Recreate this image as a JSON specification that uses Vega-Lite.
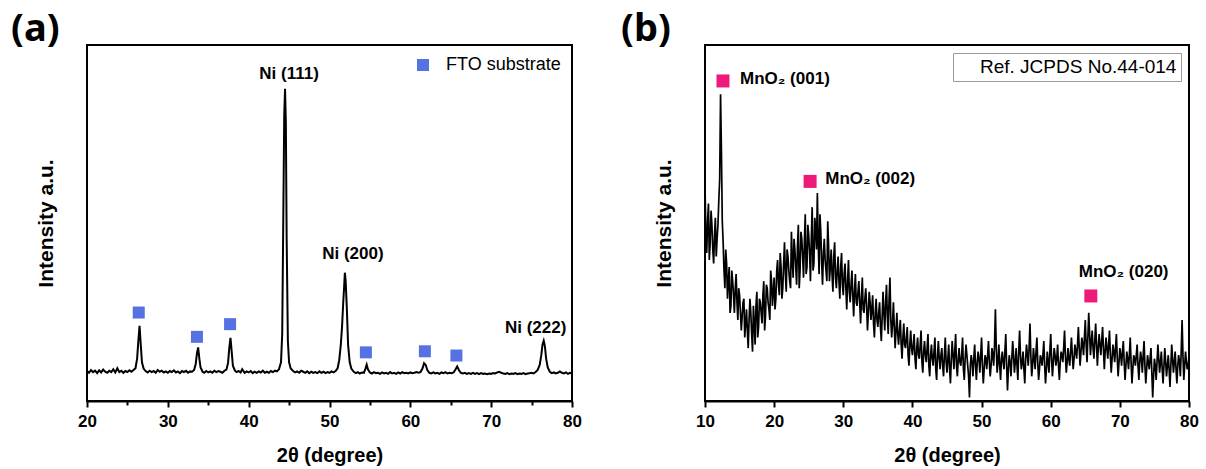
{
"$schema": "https://vega.github.io/schema/vega-lite/v6.json",
"padding": {"left": 10, "top": 10, "right": 5, "bottom": 5},
"background": "white",
"spacing": 133,
"bounds": "flush",
"resolve": {"scale": {"color": "independent"}, "legend": {"color": "independent"}},
"config": {
  "view": {"stroke": "black", "strokeWidth": 2},
  "font": "Liberation Sans",
  "axisX": {"labelFont": "Liberation Sans", "labelFontSize": 17, "labelFontWeight": "bold", "labelColor": "black", "labelPadding": 6, "labelFlush": false, "labelOverlap": false, "labelBound": false, "tickColor": "black", "tickWidth": 2, "domainColor": "black", "domainWidth": 2, "grid": false, "titleFont": "Liberation Sans", "titleFontSize": 20, "titleFontWeight": "bold", "titleColor": "black", "titlePadding": 16},
  "axisY": {"labels": false, "ticks": false, "domain": false, "grid": false, "titleFont": "Liberation Sans", "titleFontSize": 21, "titleFontWeight": "bold", "titleColor": "black", "titlePadding": 31}
},
"datasets": {
  "a_trace": [
{"angle":20,"intensity":7.5},{"angle":20.25,"intensity":7.0},{"angle":20.5,"intensity":7.8},{"angle":20.75,"intensity":7.2},{"angle":21,"intensity":7.6},{"angle":21.25,"intensity":6.9},{"angle":21.5,"intensity":7.7},{"angle":21.75,"intensity":7.1},{"angle":22,"intensity":7.9},{"angle":22.25,"intensity":7.3},{"angle":22.5,"intensity":7.0},{"angle":22.75,"intensity":7.6},{"angle":23,"intensity":7.2},{"angle":23.25,"intensity":8.0},{"angle":23.5,"intensity":7.1},{"angle":23.75,"intensity":8.3},{"angle":24,"intensity":7.2},{"angle":24.25,"intensity":7.6},{"angle":24.5,"intensity":7.0},{"angle":24.75,"intensity":7.5},{"angle":25,"intensity":7.2},{"angle":25.25,"intensity":7.7},{"angle":25.5,"intensity":7.3},{"angle":25.75,"intensity":7.8},{"angle":26,"intensity":8.3},{"angle":26.2,"intensity":11},{"angle":26.35,"intensity":16},{"angle":26.5,"intensity":20.3},{"angle":26.65,"intensity":15},{"angle":26.8,"intensity":10},{"angle":27,"intensity":8.2},{"angle":27.25,"intensity":7.5},{"angle":27.5,"intensity":7.1},{"angle":27.75,"intensity":7.6},{"angle":28,"intensity":7.2},{"angle":28.25,"intensity":7.5},{"angle":28.5,"intensity":7.0},{"angle":28.75,"intensity":7.8},{"angle":29,"intensity":7.3},{"angle":29.25,"intensity":7.6},{"angle":29.5,"intensity":7.1},{"angle":29.75,"intensity":7.4},{"angle":30,"intensity":7.0},{"angle":30.25,"intensity":7.5},{"angle":30.5,"intensity":7.2},{"angle":30.75,"intensity":7.7},{"angle":31,"intensity":7.1},{"angle":31.25,"intensity":7.4},{"angle":31.5,"intensity":6.9},{"angle":31.75,"intensity":7.5},{"angle":32,"intensity":7.2},{"angle":32.25,"intensity":7.6},{"angle":32.5,"intensity":7.0},{"angle":32.75,"intensity":7.4},{"angle":33,"intensity":7.3},{"angle":33.25,"intensity":7.8},{"angle":33.45,"intensity":9.5},{"angle":33.6,"intensity":12.5},{"angle":33.75,"intensity":14.2},{"angle":33.9,"intensity":11},{"angle":34.05,"intensity":8.5},{"angle":34.3,"intensity":7.3},{"angle":34.5,"intensity":7.0},{"angle":34.75,"intensity":7.5},{"angle":35,"intensity":7.1},{"angle":35.25,"intensity":7.4},{"angle":35.5,"intensity":7.0},{"angle":35.75,"intensity":7.6},{"angle":36,"intensity":7.2},{"angle":36.25,"intensity":7.5},{"angle":36.5,"intensity":7.3},{"angle":36.75,"intensity":7.0},{"angle":37,"intensity":7.6},{"angle":37.25,"intensity":7.9},{"angle":37.45,"intensity":9.8},{"angle":37.6,"intensity":14},{"angle":37.75,"intensity":16.9},{"angle":37.9,"intensity":13},{"angle":38.05,"intensity":9.0},{"angle":38.3,"intensity":7.6},{"angle":38.5,"intensity":7.2},{"angle":38.75,"intensity":7.5},{"angle":39,"intensity":7.1},{"angle":39.2,"intensity":8.0},{"angle":39.5,"intensity":7.0},{"angle":39.75,"intensity":7.4},{"angle":40,"intensity":7.1},{"angle":40.25,"intensity":7.5},{"angle":40.5,"intensity":6.9},{"angle":40.75,"intensity":7.3},{"angle":41,"intensity":7.0},{"angle":41.25,"intensity":7.4},{"angle":41.5,"intensity":7.1},{"angle":41.75,"intensity":7.6},{"angle":42,"intensity":7.0},{"angle":42.25,"intensity":7.3},{"angle":42.5,"intensity":7.0},{"angle":42.75,"intensity":7.5},{"angle":43,"intensity":7.2},{"angle":43.25,"intensity":7.6},{"angle":43.5,"intensity":7.4},{"angle":43.75,"intensity":8.0},{"angle":44,"intensity":10},{"angle":44.15,"intensity":18},{"angle":44.3,"intensity":55},{"angle":44.4,"intensity":80},{"angle":44.5,"intensity":87.6},{"angle":44.6,"intensity":78},{"angle":44.7,"intensity":45},{"angle":44.85,"intensity":16},{"angle":45,"intensity":10},{"angle":45.2,"intensity":8.2},{"angle":45.5,"intensity":7.5},{"angle":45.75,"intensity":7.1},{"angle":46,"intensity":7.4},{"angle":46.25,"intensity":7.0},{"angle":46.5,"intensity":7.6},{"angle":46.75,"intensity":7.3},{"angle":47,"intensity":7.0},{"angle":47.25,"intensity":7.4},{"angle":47.5,"intensity":6.9},{"angle":47.75,"intensity":7.3},{"angle":48,"intensity":7.0},{"angle":48.25,"intensity":7.2},{"angle":48.5,"intensity":6.9},{"angle":48.75,"intensity":7.4},{"angle":49,"intensity":7.0},{"angle":49.25,"intensity":7.3},{"angle":49.5,"intensity":6.9},{"angle":49.75,"intensity":7.2},{"angle":50,"intensity":7.0},{"angle":50.25,"intensity":7.4},{"angle":50.5,"intensity":7.1},{"angle":50.75,"intensity":7.5},{"angle":51,"intensity":8.3},{"angle":51.2,"intensity":10.5},{"angle":51.4,"intensity":15},{"angle":51.55,"intensity":20},{"angle":51.7,"intensity":27},{"angle":51.8,"intensity":31},{"angle":51.9,"intensity":35.4},{"angle":52,"intensity":33},{"angle":52.15,"intensity":25},{"angle":52.3,"intensity":15},{"angle":52.5,"intensity":10},{"angle":52.7,"intensity":8.2},{"angle":53,"intensity":7.3},{"angle":53.25,"intensity":6.9},{"angle":53.5,"intensity":7.2},{"angle":53.75,"intensity":6.8},{"angle":54,"intensity":7.1},{"angle":54.25,"intensity":7.0},{"angle":54.45,"intensity":8.2},{"angle":54.6,"intensity":9.3},{"angle":54.75,"intensity":8.0},{"angle":55,"intensity":7.1},{"angle":55.25,"intensity":6.8},{"angle":55.5,"intensity":7.2},{"angle":55.75,"intensity":6.9},{"angle":56,"intensity":7.0},{"angle":56.25,"intensity":6.7},{"angle":56.5,"intensity":7.1},{"angle":56.75,"intensity":6.8},{"angle":57,"intensity":7.0},{"angle":57.25,"intensity":6.7},{"angle":57.5,"intensity":7.2},{"angle":57.75,"intensity":6.8},{"angle":58,"intensity":7.0},{"angle":58.25,"intensity":6.7},{"angle":58.5,"intensity":7.1},{"angle":58.75,"intensity":6.8},{"angle":59,"intensity":7.2},{"angle":59.25,"intensity":6.9},{"angle":59.5,"intensity":7.0},{"angle":59.75,"intensity":6.8},{"angle":60,"intensity":7.1},{"angle":60.25,"intensity":6.9},{"angle":60.5,"intensity":7.0},{"angle":60.75,"intensity":7.2},{"angle":61,"intensity":7.0},{"angle":61.25,"intensity":7.2},{"angle":61.5,"intensity":8.2},{"angle":61.7,"intensity":9.7},{"angle":61.9,"intensity":9.2},{"angle":62.1,"intensity":7.8},{"angle":62.35,"intensity":7.0},{"angle":62.6,"intensity":6.8},{"angle":62.85,"intensity":7.1},{"angle":63.1,"intensity":6.8},{"angle":63.35,"intensity":7.0},{"angle":63.6,"intensity":6.7},{"angle":63.85,"intensity":7.1},{"angle":64.1,"intensity":6.9},{"angle":64.35,"intensity":7.2},{"angle":64.6,"intensity":6.8},{"angle":64.85,"intensity":7.0},{"angle":65.1,"intensity":6.9},{"angle":65.35,"intensity":7.1},{"angle":65.6,"intensity":8.0},{"angle":65.8,"intensity":8.8},{"angle":66,"intensity":7.8},{"angle":66.25,"intensity":7.0},{"angle":66.5,"intensity":6.8},{"angle":66.75,"intensity":7.0},{"angle":67,"intensity":6.7},{"angle":67.25,"intensity":6.9},{"angle":67.5,"intensity":6.7},{"angle":67.75,"intensity":7.0},{"angle":68,"intensity":6.7},{"angle":68.25,"intensity":6.9},{"angle":68.5,"intensity":6.6},{"angle":68.75,"intensity":6.9},{"angle":69,"intensity":6.7},{"angle":69.25,"intensity":6.8},{"angle":69.5,"intensity":6.6},{"angle":69.75,"intensity":6.8},{"angle":70,"intensity":6.7},{"angle":70.25,"intensity":6.9},{"angle":70.5,"intensity":6.8},{"angle":70.75,"intensity":7.1},{"angle":71,"intensity":7.3},{"angle":71.25,"intensity":7.0},{"angle":71.5,"intensity":6.8},{"angle":71.75,"intensity":6.7},{"angle":72,"intensity":6.9},{"angle":72.25,"intensity":6.6},{"angle":72.5,"intensity":6.8},{"angle":72.75,"intensity":6.7},{"angle":73,"intensity":6.9},{"angle":73.25,"intensity":6.6},{"angle":73.5,"intensity":6.8},{"angle":73.75,"intensity":6.7},{"angle":74,"intensity":6.9},{"angle":74.25,"intensity":6.6},{"angle":74.5,"intensity":6.8},{"angle":74.75,"intensity":6.9},{"angle":75,"intensity":7.0},{"angle":75.25,"intensity":6.8},{"angle":75.5,"intensity":7.2},{"angle":75.75,"intensity":7.8},{"angle":76,"intensity":9.2},{"angle":76.2,"intensity":12},{"angle":76.35,"intensity":15},{"angle":76.5,"intensity":16.1},{"angle":76.65,"intensity":14.5},{"angle":76.8,"intensity":11},{"angle":77,"intensity":8.5},{"angle":77.25,"intensity":7.3},{"angle":77.5,"intensity":6.9},{"angle":77.75,"intensity":7.1},{"angle":78,"intensity":6.8},{"angle":78.25,"intensity":7.0},{"angle":78.5,"intensity":7.4},{"angle":78.75,"intensity":7.0},{"angle":79,"intensity":6.8},{"angle":79.25,"intensity":7.1},{"angle":79.5,"intensity":6.7},{"angle":79.75,"intensity":7.0},{"angle":80,"intensity":6.8}
  ],
  "a_fto": [
    {"angle":26.4,"intensity":24.1,"series":"FTO substrate"},
    {"angle":33.6,"intensity":17.2,"series":"FTO substrate"},
    {"angle":37.7,"intensity":20.8,"series":"FTO substrate"},
    {"angle":54.5,"intensity":12.8,"series":"FTO substrate"},
    {"angle":61.8,"intensity":13.1,"series":"FTO substrate"},
    {"angle":65.7,"intensity":11.9,"series":"FTO substrate"}
  ],
  "a_labels": [
    {"angle":45.0,"intensity":91.8,"label":"Ni (111)"},
    {"angle":52.9,"intensity":40.7,"label":"Ni (200)"},
    {"angle":75.5,"intensity":19.7,"label":"Ni (222)"}
  ],
  "b_trace": [
{"angle":10,"intensity":60},{"angle":10.125,"intensity":47},{"angle":10.25,"intensity":41},{"angle":10.375,"intensity":50},{"angle":10.5,"intensity":55},{"angle":10.625,"intensity":39},{"angle":10.75,"intensity":44},{"angle":10.875,"intensity":53},{"angle":11,"intensity":49},{"angle":11.125,"intensity":42},{"angle":11.25,"intensity":38},{"angle":11.375,"intensity":46},{"angle":11.5,"intensity":51},{"angle":11.625,"intensity":40},{"angle":11.75,"intensity":45},{"angle":11.875,"intensity":49},{"angle":12,"intensity":56},{"angle":12.125,"intensity":62},{"angle":12.25,"intensity":86},{"angle":12.375,"intensity":70},{"angle":12.5,"intensity":50},{"angle":12.625,"intensity":44},{"angle":12.75,"intensity":36},{"angle":12.875,"intensity":31},{"angle":13,"intensity":42},{"angle":13.125,"intensity":38},{"angle":13.25,"intensity":28},{"angle":13.375,"intensity":33},{"angle":13.5,"intensity":37},{"angle":13.625,"intensity":24},{"angle":13.75,"intensity":26},{"angle":13.875,"intensity":36},{"angle":14,"intensity":33},{"angle":14.125,"intensity":29},{"angle":14.25,"intensity":24},{"angle":14.375,"intensity":31},{"angle":14.5,"intensity":35},{"angle":14.625,"intensity":27},{"angle":14.75,"intensity":22},{"angle":14.875,"intensity":31},{"angle":15,"intensity":29},{"angle":15.125,"intensity":24},{"angle":15.25,"intensity":19},{"angle":15.375,"intensity":23},{"angle":15.5,"intensity":27},{"angle":15.625,"intensity":28},{"angle":15.75,"intensity":17},{"angle":15.875,"intensity":21},{"angle":16,"intensity":25},{"angle":16.125,"intensity":19},{"angle":16.25,"intensity":14},{"angle":16.375,"intensity":22},{"angle":16.5,"intensity":28},{"angle":16.625,"intensity":24},{"angle":16.75,"intensity":18},{"angle":16.875,"intensity":13},{"angle":17,"intensity":26},{"angle":17.125,"intensity":21},{"angle":17.25,"intensity":15},{"angle":17.375,"intensity":26},{"angle":17.5,"intensity":30},{"angle":17.625,"intensity":17},{"angle":17.75,"intensity":20},{"angle":17.875,"intensity":28},{"angle":18,"intensity":27},{"angle":18.125,"intensity":24},{"angle":18.25,"intensity":21},{"angle":18.375,"intensity":29},{"angle":18.5,"intensity":33},{"angle":18.625,"intensity":19},{"angle":18.75,"intensity":23},{"angle":18.875,"intensity":32},{"angle":19,"intensity":31},{"angle":19.125,"intensity":27},{"angle":19.25,"intensity":25},{"angle":19.375,"intensity":22},{"angle":19.5,"intensity":36},{"angle":19.625,"intensity":33},{"angle":19.75,"intensity":26},{"angle":19.875,"intensity":30},{"angle":20,"intensity":34},{"angle":20.125,"intensity":25},{"angle":20.25,"intensity":28},{"angle":20.375,"intensity":36},{"angle":20.5,"intensity":39},{"angle":20.625,"intensity":32},{"angle":20.75,"intensity":29},{"angle":20.875,"intensity":41},{"angle":21,"intensity":37},{"angle":21.125,"intensity":28},{"angle":21.25,"intensity":31},{"angle":21.375,"intensity":38},{"angle":21.5,"intensity":44},{"angle":21.625,"intensity":35},{"angle":21.75,"intensity":30},{"angle":21.875,"intensity":42},{"angle":22,"intensity":40},{"angle":22.125,"intensity":36},{"angle":22.25,"intensity":33},{"angle":22.375,"intensity":31},{"angle":22.5,"intensity":47},{"angle":22.625,"intensity":39},{"angle":22.75,"intensity":34},{"angle":22.875,"intensity":45},{"angle":23,"intensity":42},{"angle":23.125,"intensity":37},{"angle":23.25,"intensity":32},{"angle":23.375,"intensity":43},{"angle":23.5,"intensity":49},{"angle":23.625,"intensity":31},{"angle":23.75,"intensity":36},{"angle":23.875,"intensity":47},{"angle":24,"intensity":45},{"angle":24.125,"intensity":40},{"angle":24.25,"intensity":34},{"angle":24.375,"intensity":44},{"angle":24.5,"intensity":52},{"angle":24.625,"intensity":35},{"angle":24.75,"intensity":37},{"angle":24.875,"intensity":49},{"angle":25,"intensity":46},{"angle":25.125,"intensity":41},{"angle":25.25,"intensity":33},{"angle":25.375,"intensity":45},{"angle":25.5,"intensity":54},{"angle":25.625,"intensity":36},{"angle":25.75,"intensity":38},{"angle":25.875,"intensity":51},{"angle":26,"intensity":48},{"angle":26.125,"intensity":42},{"angle":26.25,"intensity":58},{"angle":26.375,"intensity":44},{"angle":26.5,"intensity":35},{"angle":26.625,"intensity":52},{"angle":26.75,"intensity":47},{"angle":26.875,"intensity":38},{"angle":27,"intensity":32},{"angle":27.125,"intensity":41},{"angle":27.25,"intensity":45},{"angle":27.375,"intensity":39},{"angle":27.5,"intensity":36},{"angle":27.625,"intensity":33},{"angle":27.75,"intensity":50},{"angle":27.875,"intensity":43},{"angle":28,"intensity":33},{"angle":28.125,"intensity":37},{"angle":28.25,"intensity":42},{"angle":28.375,"intensity":35},{"angle":28.5,"intensity":30},{"angle":28.625,"intensity":40},{"angle":28.75,"intensity":44},{"angle":28.875,"intensity":34},{"angle":29,"intensity":31},{"angle":29.125,"intensity":36},{"angle":29.25,"intensity":40},{"angle":29.375,"intensity":33},{"angle":29.5,"intensity":28},{"angle":29.625,"intensity":37},{"angle":29.75,"intensity":41},{"angle":29.875,"intensity":32},{"angle":30,"intensity":29},{"angle":30.125,"intensity":35},{"angle":30.25,"intensity":38},{"angle":30.375,"intensity":31},{"angle":30.5,"intensity":25},{"angle":30.625,"intensity":33},{"angle":30.75,"intensity":39},{"angle":30.875,"intensity":30},{"angle":31,"intensity":27},{"angle":31.125,"intensity":32},{"angle":31.25,"intensity":36},{"angle":31.375,"intensity":29},{"angle":31.5,"intensity":23},{"angle":31.625,"intensity":30},{"angle":31.75,"intensity":35},{"angle":31.875,"intensity":27},{"angle":32,"intensity":26},{"angle":32.125,"intensity":30},{"angle":32.25,"intensity":33},{"angle":32.375,"intensity":27},{"angle":32.5,"intensity":21},{"angle":32.625,"intensity":28},{"angle":32.75,"intensity":34},{"angle":32.875,"intensity":25},{"angle":33,"intensity":24},{"angle":33.125,"intensity":28},{"angle":33.25,"intensity":31},{"angle":33.375,"intensity":26},{"angle":33.5,"intensity":19},{"angle":33.625,"intensity":24},{"angle":33.75,"intensity":30},{"angle":33.875,"intensity":27},{"angle":34,"intensity":22},{"angle":34.125,"intensity":25},{"angle":34.25,"intensity":29},{"angle":34.375,"intensity":21},{"angle":34.5,"intensity":17},{"angle":34.625,"intensity":24},{"angle":34.75,"intensity":28},{"angle":34.875,"intensity":22},{"angle":35,"intensity":20},{"angle":35.125,"intensity":24},{"angle":35.25,"intensity":27},{"angle":35.375,"intensity":20},{"angle":35.5,"intensity":16},{"angle":35.625,"intensity":23},{"angle":35.75,"intensity":30},{"angle":35.875,"intensity":24},{"angle":36,"intensity":19},{"angle":36.125,"intensity":27},{"angle":36.25,"intensity":32},{"angle":36.375,"intensity":23},{"angle":36.5,"intensity":18},{"angle":36.625,"intensity":28},{"angle":36.75,"intensity":34},{"angle":36.875,"intensity":22},{"angle":37,"intensity":17},{"angle":37.125,"intensity":21},{"angle":37.25,"intensity":27},{"angle":37.375,"intensity":20},{"angle":37.5,"intensity":14},{"angle":37.625,"intensity":19},{"angle":37.75,"intensity":24},{"angle":37.875,"intensity":18},{"angle":38,"intensity":15},{"angle":38.125,"intensity":19},{"angle":38.25,"intensity":22},{"angle":38.375,"intensity":15},{"angle":38.5,"intensity":11},{"angle":38.625,"intensity":17},{"angle":38.75,"intensity":21},{"angle":38.875,"intensity":15},{"angle":39,"intensity":14},{"angle":39.125,"intensity":17},{"angle":39.25,"intensity":20},{"angle":39.375,"intensity":12},{"angle":39.5,"intensity":9},{"angle":39.625,"intensity":15},{"angle":39.75,"intensity":19},{"angle":39.875,"intensity":14},{"angle":40,"intensity":12},{"angle":40.125,"intensity":15},{"angle":40.25,"intensity":18},{"angle":40.375,"intensity":11},{"angle":40.5,"intensity":8},{"angle":40.625,"intensity":14},{"angle":40.75,"intensity":17},{"angle":40.875,"intensity":12},{"angle":41,"intensity":11},{"angle":41.125,"intensity":15},{"angle":41.25,"intensity":19},{"angle":41.375,"intensity":10},{"angle":41.5,"intensity":7},{"angle":41.625,"intensity":13},{"angle":41.75,"intensity":16},{"angle":41.875,"intensity":12},{"angle":42,"intensity":10},{"angle":42.125,"intensity":14},{"angle":42.25,"intensity":18},{"angle":42.375,"intensity":9},{"angle":42.5,"intensity":6},{"angle":42.625,"intensity":12},{"angle":42.75,"intensity":15},{"angle":42.875,"intensity":11},{"angle":43,"intensity":9},{"angle":43.125,"intensity":13},{"angle":43.25,"intensity":17},{"angle":43.375,"intensity":8},{"angle":43.5,"intensity":5},{"angle":43.625,"intensity":12},{"angle":43.75,"intensity":16},{"angle":43.875,"intensity":11},{"angle":44,"intensity":8},{"angle":44.125,"intensity":12},{"angle":44.25,"intensity":14},{"angle":44.375,"intensity":9},{"angle":44.5,"intensity":6},{"angle":44.625,"intensity":12},{"angle":44.75,"intensity":17},{"angle":44.875,"intensity":10},{"angle":45,"intensity":7},{"angle":45.125,"intensity":11},{"angle":45.25,"intensity":15},{"angle":45.375,"intensity":8},{"angle":45.5,"intensity":4},{"angle":45.625,"intensity":11},{"angle":45.75,"intensity":16},{"angle":45.875,"intensity":12},{"angle":46,"intensity":8},{"angle":46.125,"intensity":13},{"angle":46.25,"intensity":18},{"angle":46.375,"intensity":9},{"angle":46.5,"intensity":6},{"angle":46.625,"intensity":11},{"angle":46.75,"intensity":14},{"angle":46.875,"intensity":10},{"angle":47,"intensity":9},{"angle":47.125,"intensity":12},{"angle":47.25,"intensity":17},{"angle":47.375,"intensity":8},{"angle":47.5,"intensity":5},{"angle":47.625,"intensity":11},{"angle":47.75,"intensity":15},{"angle":47.875,"intensity":12},{"angle":48,"intensity":9},{"angle":48.125,"intensity":6},{"angle":48.25,"intensity":0},{"angle":48.375,"intensity":9},{"angle":48.5,"intensity":12},{"angle":48.625,"intensity":10},{"angle":48.75,"intensity":6},{"angle":48.875,"intensity":11},{"angle":49,"intensity":15},{"angle":49.125,"intensity":9},{"angle":49.25,"intensity":5},{"angle":49.375,"intensity":10},{"angle":49.5,"intensity":13},{"angle":49.625,"intensity":11},{"angle":49.75,"intensity":7},{"angle":49.875,"intensity":12},{"angle":50,"intensity":17},{"angle":50.125,"intensity":9},{"angle":50.25,"intensity":4},{"angle":50.375,"intensity":8},{"angle":50.5,"intensity":12},{"angle":50.625,"intensity":11},{"angle":50.75,"intensity":8},{"angle":50.875,"intensity":12},{"angle":51,"intensity":16},{"angle":51.125,"intensity":10},{"angle":51.25,"intensity":6},{"angle":51.375,"intensity":9},{"angle":51.5,"intensity":14},{"angle":51.625,"intensity":12},{"angle":51.75,"intensity":9},{"angle":51.875,"intensity":15},{"angle":52,"intensity":25},{"angle":52.125,"intensity":14},{"angle":52.25,"intensity":7},{"angle":52.375,"intensity":10},{"angle":52.5,"intensity":15},{"angle":52.625,"intensity":9},{"angle":52.75,"intensity":5},{"angle":52.875,"intensity":11},{"angle":53,"intensity":13},{"angle":53.125,"intensity":10},{"angle":53.25,"intensity":8},{"angle":53.375,"intensity":13},{"angle":53.5,"intensity":18},{"angle":53.625,"intensity":9},{"angle":53.75,"intensity":2},{"angle":53.875,"intensity":8},{"angle":54,"intensity":12},{"angle":54.125,"intensity":10},{"angle":54.25,"intensity":6},{"angle":54.375,"intensity":11},{"angle":54.5,"intensity":16},{"angle":54.625,"intensity":12},{"angle":54.75,"intensity":7},{"angle":54.875,"intensity":10},{"angle":55,"intensity":14},{"angle":55.125,"intensity":9},{"angle":55.25,"intensity":5},{"angle":55.375,"intensity":13},{"angle":55.5,"intensity":19},{"angle":55.625,"intensity":12},{"angle":55.75,"intensity":8},{"angle":55.875,"intensity":10},{"angle":56,"intensity":13},{"angle":56.125,"intensity":8},{"angle":56.25,"intensity":4},{"angle":56.375,"intensity":11},{"angle":56.5,"intensity":15},{"angle":56.625,"intensity":12},{"angle":56.75,"intensity":9},{"angle":56.875,"intensity":14},{"angle":57,"intensity":21},{"angle":57.125,"intensity":12},{"angle":57.25,"intensity":6},{"angle":57.375,"intensity":9},{"angle":57.5,"intensity":14},{"angle":57.625,"intensity":11},{"angle":57.75,"intensity":8},{"angle":57.875,"intensity":13},{"angle":58,"intensity":17},{"angle":58.125,"intensity":10},{"angle":58.25,"intensity":5},{"angle":58.375,"intensity":8},{"angle":58.5,"intensity":12},{"angle":58.625,"intensity":11},{"angle":58.75,"intensity":9},{"angle":58.875,"intensity":12},{"angle":59,"intensity":16},{"angle":59.125,"intensity":9},{"angle":59.25,"intensity":4},{"angle":59.375,"intensity":8},{"angle":59.5,"intensity":13},{"angle":59.625,"intensity":10},{"angle":59.75,"intensity":7},{"angle":59.875,"intensity":13},{"angle":60,"intensity":18},{"angle":60.125,"intensity":11},{"angle":60.25,"intensity":6},{"angle":60.375,"intensity":10},{"angle":60.5,"intensity":14},{"angle":60.625,"intensity":12},{"angle":60.75,"intensity":9},{"angle":60.875,"intensity":11},{"angle":61,"intensity":15},{"angle":61.125,"intensity":9},{"angle":61.25,"intensity":5},{"angle":61.375,"intensity":10},{"angle":61.5,"intensity":13},{"angle":61.625,"intensity":12},{"angle":61.75,"intensity":10},{"angle":61.875,"intensity":14},{"angle":62,"intensity":19},{"angle":62.125,"intensity":12},{"angle":62.25,"intensity":7},{"angle":62.375,"intensity":10},{"angle":62.5,"intensity":14},{"angle":62.625,"intensity":11},{"angle":62.75,"intensity":9},{"angle":62.875,"intensity":13},{"angle":63,"intensity":17},{"angle":63.125,"intensity":12},{"angle":63.25,"intensity":8},{"angle":63.375,"intensity":11},{"angle":63.5,"intensity":15},{"angle":63.625,"intensity":13},{"angle":63.75,"intensity":11},{"angle":63.875,"intensity":15},{"angle":64,"intensity":20},{"angle":64.125,"intensity":14},{"angle":64.25,"intensity":9},{"angle":64.375,"intensity":13},{"angle":64.5,"intensity":17},{"angle":64.625,"intensity":15},{"angle":64.75,"intensity":12},{"angle":64.875,"intensity":17},{"angle":65,"intensity":22},{"angle":65.125,"intensity":15},{"angle":65.25,"intensity":10},{"angle":65.375,"intensity":17},{"angle":65.5,"intensity":24},{"angle":65.625,"intensity":18},{"angle":65.75,"intensity":12},{"angle":65.875,"intensity":16},{"angle":66,"intensity":19},{"angle":66.125,"intensity":14},{"angle":66.25,"intensity":11},{"angle":66.375,"intensity":16},{"angle":66.5,"intensity":21},{"angle":66.625,"intensity":15},{"angle":66.75,"intensity":9},{"angle":66.875,"intensity":14},{"angle":67,"intensity":18},{"angle":67.125,"intensity":15},{"angle":67.25,"intensity":12},{"angle":67.375,"intensity":16},{"angle":67.5,"intensity":20},{"angle":67.625,"intensity":14},{"angle":67.75,"intensity":8},{"angle":67.875,"intensity":13},{"angle":68,"intensity":17},{"angle":68.125,"intensity":14},{"angle":68.25,"intensity":11},{"angle":68.375,"intensity":15},{"angle":68.5,"intensity":19},{"angle":68.625,"intensity":12},{"angle":68.75,"intensity":7},{"angle":68.875,"intensity":11},{"angle":69,"intensity":15},{"angle":69.125,"intensity":13},{"angle":69.25,"intensity":10},{"angle":69.375,"intensity":14},{"angle":69.5,"intensity":18},{"angle":69.625,"intensity":11},{"angle":69.75,"intensity":6},{"angle":69.875,"intensity":10},{"angle":70,"intensity":14},{"angle":70.125,"intensity":12},{"angle":70.25,"intensity":9},{"angle":70.375,"intensity":13},{"angle":70.5,"intensity":16},{"angle":70.625,"intensity":10},{"angle":70.75,"intensity":5},{"angle":70.875,"intensity":9},{"angle":71,"intensity":13},{"angle":71.125,"intensity":11},{"angle":71.25,"intensity":8},{"angle":71.375,"intensity":12},{"angle":71.5,"intensity":17},{"angle":71.625,"intensity":10},{"angle":71.75,"intensity":4},{"angle":71.875,"intensity":8},{"angle":72,"intensity":12},{"angle":72.125,"intensity":11},{"angle":72.25,"intensity":9},{"angle":72.375,"intensity":12},{"angle":72.5,"intensity":15},{"angle":72.625,"intensity":9},{"angle":72.75,"intensity":5},{"angle":72.875,"intensity":10},{"angle":73,"intensity":13},{"angle":73.125,"intensity":11},{"angle":73.25,"intensity":7},{"angle":73.375,"intensity":12},{"angle":73.5,"intensity":16},{"angle":73.625,"intensity":9},{"angle":73.75,"intensity":4},{"angle":73.875,"intensity":8},{"angle":74,"intensity":12},{"angle":74.125,"intensity":10},{"angle":74.25,"intensity":8},{"angle":74.375,"intensity":11},{"angle":74.5,"intensity":14},{"angle":74.625,"intensity":7},{"angle":74.75,"intensity":0},{"angle":74.875,"intensity":6},{"angle":75,"intensity":11},{"angle":75.125,"intensity":9},{"angle":75.25,"intensity":5},{"angle":75.375,"intensity":10},{"angle":75.5,"intensity":15},{"angle":75.625,"intensity":11},{"angle":75.75,"intensity":7},{"angle":75.875,"intensity":10},{"angle":76,"intensity":13},{"angle":76.125,"intensity":8},{"angle":76.25,"intensity":4},{"angle":76.375,"intensity":9},{"angle":76.5,"intensity":14},{"angle":76.625,"intensity":10},{"angle":76.75,"intensity":6},{"angle":76.875,"intensity":9},{"angle":77,"intensity":12},{"angle":77.125,"intensity":8},{"angle":77.25,"intensity":3},{"angle":77.375,"intensity":9},{"angle":77.5,"intensity":15},{"angle":77.625,"intensity":11},{"angle":77.75,"intensity":7},{"angle":77.875,"intensity":10},{"angle":78,"intensity":13},{"angle":78.125,"intensity":8},{"angle":78.25,"intensity":4},{"angle":78.375,"intensity":9},{"angle":78.5,"intensity":12},{"angle":78.625,"intensity":10},{"angle":78.75,"intensity":6},{"angle":78.875,"intensity":13},{"angle":79,"intensity":22},{"angle":79.125,"intensity":12},{"angle":79.25,"intensity":5},{"angle":79.375,"intensity":9},{"angle":79.5,"intensity":13},{"angle":79.625,"intensity":10},{"angle":79.75,"intensity":8},{"angle":79.875,"intensity":9},{"angle":80,"intensity":12}
  ],
  "b_marks": [
    {"angle":12.6,"intensity":89.8,"ref":"Ref. JCPDS No.44-014"},
    {"angle":25.2,"intensity":61.3,"ref":"Ref. JCPDS No.44-014"},
    {"angle":65.8,"intensity":28.8,"ref":"Ref. JCPDS No.44-014"}
  ],
  "b_labels": [
    {"angle":15.07,"intensity":90.4,"label":"MnO₂ (001)"},
    {"angle":27.4,"intensity":61.9,"label":"MnO₂ (002)"},
    {"angle":64.06,"intensity":35.6,"label":"MnO₂ (020)"}
  ]
},
"hconcat": [
  {
    "width": 485, "height": 356,
    "title": {"text": "(a)", "anchor": "start", "frame": "group", "dx": -76, "offset": -34, "baseline": "alphabetic", "fontSize": 38, "font": "Noto Sans", "fontWeight": "bold", "color": "black"},
    "layer": [
      {
        "data": {"name": "a_trace"},
        "mark": {"type": "line", "color": "black", "strokeWidth": 2},
        "encoding": {
          "x": {"field": "angle", "type": "quantitative", "scale": {"domain": [20, 80], "nice": false, "zero": false},
                "axis": {"title": "2θ (degree)", "values": [20,25,30,35,40,45,50,55,60,65,70,75,80],
                         "labelExpr": "datum.value % 10 === 0 ? datum.label : ''",
                         "tickSize": {"condition": {"test": "datum.value % 10 === 0", "value": 6}, "value": 4}}},
          "y": {"field": "intensity", "type": "quantitative", "scale": {"domain": [-1, 100], "nice": false, "zero": false}, "axis": {"title": "Intensity a.u."}}
        }
      },
      {
        "data": {"name": "a_fto"},
        "mark": {"type": "point", "shape": "square", "filled": true, "size": 144, "opacity": 1},
        "encoding": {
          "x": {"field": "angle", "type": "quantitative"},
          "y": {"field": "intensity", "type": "quantitative"},
          "color": {"field": "series", "type": "nominal", "scale": {"range": ["#5571E2"]},
                    "legend": {"title": null, "orient": "top-right", "offset": 11, "padding": 0, "labelFont": "Liberation Sans", "labelFontSize": 18, "labelColor": "black", "labelOffset": 14, "symbolSize": 144, "symbolType": "square", "symbolStrokeWidth": 0}}
        }
      },
      {
        "data": {"name": "a_labels"},
        "mark": {"type": "text", "font": "Liberation Sans", "fontSize": 17, "fontWeight": "bold", "color": "black", "align": "center", "baseline": "middle"},
        "encoding": {
          "x": {"field": "angle", "type": "quantitative"},
          "y": {"field": "intensity", "type": "quantitative"},
          "text": {"field": "label"}
        }
      }
    ]
  },
  {
    "width": 484, "height": 356,
    "title": {"text": "(b)", "anchor": "start", "frame": "group", "dx": -84, "offset": -34, "baseline": "alphabetic", "fontSize": 38, "font": "Noto Sans", "fontWeight": "bold", "color": "black"},
    "layer": [
      {
        "data": {"name": "b_trace"},
        "mark": {"type": "line", "color": "black", "strokeWidth": 1.7},
        "encoding": {
          "x": {"field": "angle", "type": "quantitative", "scale": {"domain": [10, 80], "nice": false, "zero": false},
                "axis": {"title": "2θ (degree)", "values": [10,15,20,25,30,35,40,45,50,55,60,65,70,75,80],
                         "labelExpr": "datum.value % 10 === 0 ? datum.label : ''",
                         "tickSize": {"condition": {"test": "datum.value % 10 === 0", "value": 6}, "value": 4}}},
          "y": {"field": "intensity", "type": "quantitative", "scale": {"domain": [-1, 100], "nice": false, "zero": false}, "axis": {"title": "Intensity a.u."}}
        }
      },
      {
        "data": {"name": "b_marks"},
        "mark": {"type": "point", "shape": "square", "filled": true, "size": 169, "opacity": 1},
        "encoding": {
          "x": {"field": "angle", "type": "quantitative"},
          "y": {"field": "intensity", "type": "quantitative"},
          "color": {"field": "ref", "type": "nominal", "scale": {"range": ["#EE1A7B"]},
                    "legend": {"title": null, "orient": "top-right", "offset": 8, "padding": 4, "strokeColor": "#9a9a9a", "fillColor": "white", "labelFont": "Liberation Sans", "labelFontSize": 19, "labelColor": "black", "labelOffset": 4, "labelLimit": 400, "symbolSize": 36, "symbolOpacity": 0, "symbolStrokeWidth": 0}}
        }
      },
      {
        "data": {"name": "b_labels"},
        "mark": {"type": "text", "font": "Liberation Sans", "fontSize": 17, "fontWeight": "bold", "color": "black", "align": "left", "baseline": "middle"},
        "encoding": {
          "x": {"field": "angle", "type": "quantitative"},
          "y": {"field": "intensity", "type": "quantitative"},
          "text": {"field": "label"}
        }
      }
    ]
  }
]
}
